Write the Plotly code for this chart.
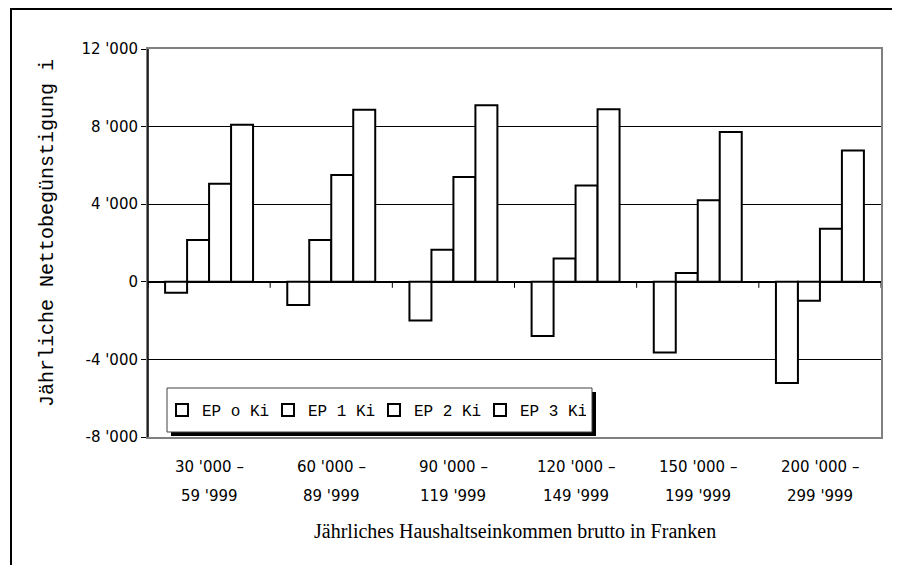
import plotly.graph_objects as go

categories = ["30 '000 –|59 '999", "60 '000 –|89 '999", "90 '000 –|119 '999",
              "120 '000 –|149 '999", "150 '000 –|199 '999", "200 '000 –|299 '999"]
series_names = ["EP o Ki", "EP 1 Ki", "EP 2 Ki", "EP 3 Ki"]
ep0 = [-570, -1200, -2000, -2800, -3640, -5220]
ep1 = [2150, 2160, 1650, 1200, 450, -980]
ep2 = [5050, 5500, 5400, 4970, 4200, 2730]
ep3 = [8100, 8870, 9100, 8900, 7720, 6770]
series_values = [ep0, ep1, ep2, ep3]
y_tickvals = [12000, 8000, 4000, 0, -4000, -8000]
y_ticktext = ["12 '000", "8 '000", "4 '000", "0", "-4 '000", "-8 '000"]
y_title = "Jährliche Nettobegünstigung i"
x_title = "Jährliches Haushaltseinkommen brutto in Franken"

SANS = "DejaVu Sans"
MONO = "Liberation Mono"
SERIF = "Liberation Serif"

fig = go.Figure()
for name, vals in zip(series_names, series_values):
    fig.add_trace(go.Bar(
        x=categories, y=vals, name=name,
        marker=dict(color="white", line=dict(color="black", width=2)),
    ))

# page offset (body margin) and figure size
OFF = 8
W, H = 892, 557
# plot area in screen pixels: x 148..881, y 49..437
SX0, SX1, SY0, SY1 = 148, 881, 49, 437
L, T = SX0 - OFF, SY0 - OFF
R, B = W - (SX1 - OFF), H - (SY1 - OFF)
pw, ph = W - L - R, H - T - B

def px(x):
    return (x - OFF - L) / pw

def py(y):
    return (H - B - (y - OFF)) / ph

fig.update_layout(
    width=W, height=H,
    margin=dict(l=L, r=R, t=T, b=B),
    paper_bgcolor="white", plot_bgcolor="white",
    barmode="group", bargap=0.28, bargroupgap=0,
    showlegend=True,
    legend=dict(orientation="h", x=px(162), y=py(410), xanchor="left", yanchor="middle",
                bgcolor="rgba(0,0,0,0)", borderwidth=0,
                font=dict(family=MONO, size=16, color="black"),
                entrywidth=61, entrywidthmode="pixels", itemwidth=30),
)
fig.update_xaxes(
    range=[-0.5, 5.5], showticklabels=False, ticks="",
    showline=True, mirror=True, linecolor="#808080", linewidth=2,
    showgrid=False, zeroline=False,
)
fig.update_yaxes(
    range=[-8000, 12000], tickvals=y_tickvals, ticktext=y_ticktext,
    tickfont=dict(family=SANS, size=15, color="black"),
    ticks="outside", ticklen=5, tickcolor="black", tickwidth=1,
    showline=True, mirror=True, linecolor="#808080", linewidth=2,
    showgrid=True, gridcolor="black", gridwidth=1,
    zeroline=True, zerolinecolor="black", zerolinewidth=2,
)

shapes = []
# black left axis line
shapes.append(dict(type="line", xref="paper", yref="paper", x0=0, x1=0, y0=0, y1=1,
                   line=dict(color="black", width=1.5)))
# category boundary ticks on the zero line
for i in range(len(categories) + 1):
    shapes.append(dict(type="line", xref="x", yref="y", ysizemode="pixel", yanchor=0,
                       x0=i - 0.5, x1=i - 0.5, y0=0, y1=-6,
                       line=dict(color="black", width=1)))
# legend shadow and box
shapes.append(dict(type="rect", xref="paper", yref="paper",
                   x0=px(171), x1=px(596), y0=py(436), y1=py(392),
                   fillcolor="black", line=dict(width=0), layer="above"))
shapes.append(dict(type="rect", xref="paper", yref="paper",
                   x0=px(167), x1=px(592), y0=py(432), y1=py(388),
                   fillcolor="white", line=dict(color="#404040", width=1), layer="above"))
# outer frame
shapes.append(dict(type="rect", xref="paper", yref="paper",
                   x0=px(11), x1=px(910), y0=py(580), y1=py(9),
                   fillcolor="rgba(0,0,0,0)", line=dict(color="black", width=2)))
fig.update_layout(shapes=shapes)

annotations = []
for c in categories:
    top, bottom = c.split("|")
    annotations.append(dict(x=c, y=py(467), xref="x", yref="paper", text=top, showarrow=False,
                            font=dict(family=SANS, size=15, color="black"), yanchor="middle"))
    annotations.append(dict(x=c, y=py(496), xref="x", yref="paper", text=bottom, showarrow=False,
                            font=dict(family=SANS, size=15, color="black"), yanchor="middle"))
annotations.append(dict(x=px(515), y=py(531), xref="paper", yref="paper", text=x_title,
                        showarrow=False, font=dict(family=SERIF, size=20, color="black"),
                        yanchor="middle"))
annotations.append(dict(x=px(47), y=py(233), xref="paper", yref="paper", text=y_title,
                        showarrow=False, textangle=-90,
                        font=dict(family=MONO, size=20, color="black"),
                        xanchor="center", yanchor="middle"))
fig.update_layout(annotations=annotations)

fig.write_html("out.html")
